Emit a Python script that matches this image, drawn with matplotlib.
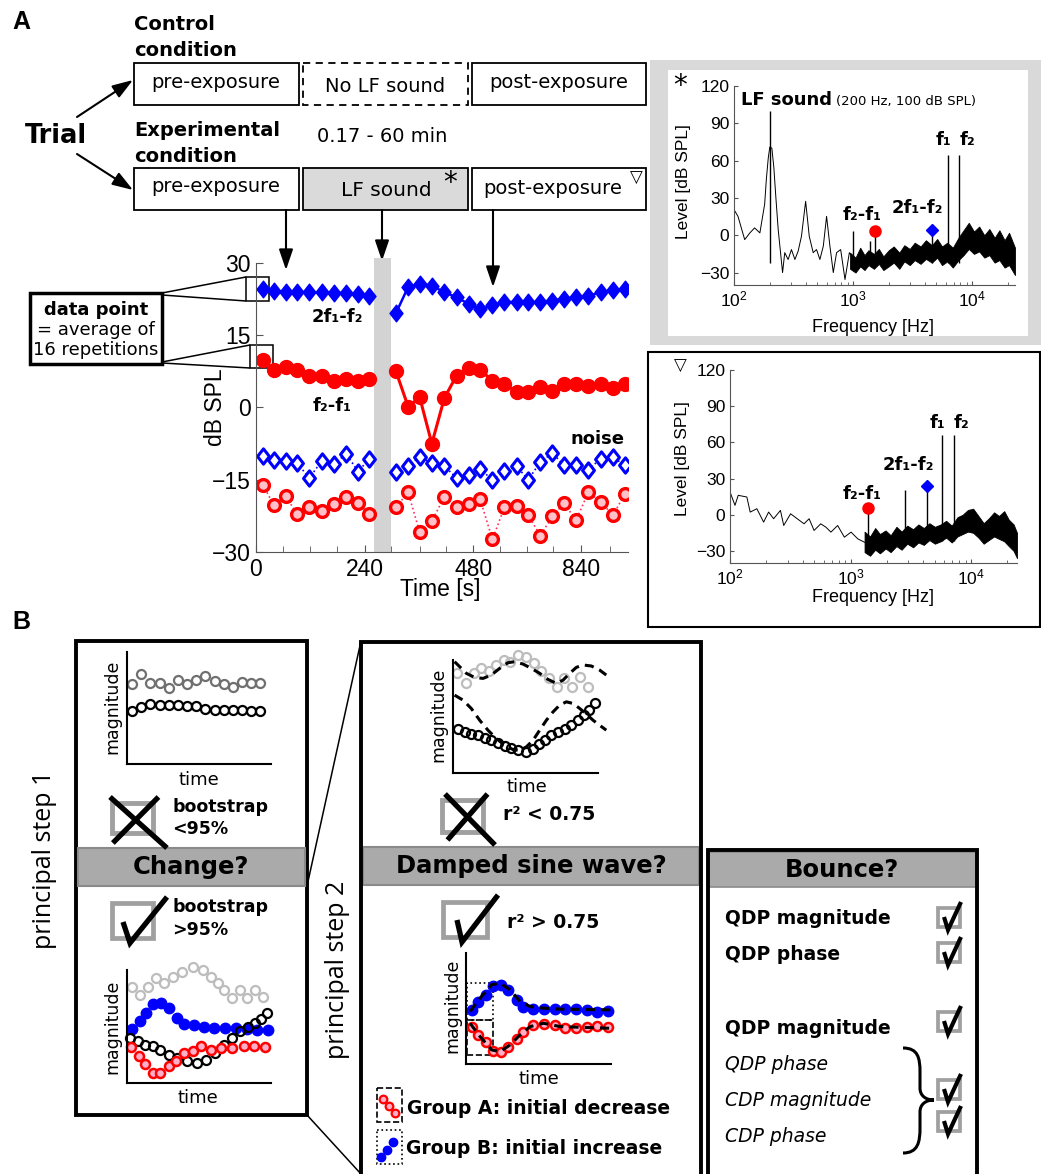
import numpy as np
import matplotlib.pyplot as plt
from matplotlib.patches import Rectangle, PathPatch, FancyArrowPatch
from matplotlib.path import Path

plt.rcParams['font.family'] = ['Liberation Sans', 'DejaVu Sans']

# ---------------- panel A: time course (dB SPL) ----------------
pre_t = [14, 37, 61, 85, 110, 136, 161, 186, 211, 234]
post_t = [289, 314, 338, 363, 389, 414, 439, 463, 488, 513,
          538, 562, 587, 612, 636, 661, 686, 712, 737, 761]
exposure_span = [244, 279]
xtick_pos = [0, 225, 449, 671]
xtick_labels = ['0', '240', '480', '840']
xtick_minor = [56, 111, 168, 278, 339, 392, 504, 559, 614, 730]

cdp_pre = [24.6, 24.1, 24.0, 24.0, 23.9, 23.9, 23.8, 23.8, 23.6, 23.2]
cdp_post = [19.6, 25.0, 25.7, 25.3, 23.9, 22.9, 21.5, 20.4, 21.2, 21.9,
            21.9, 21.9, 21.9, 22.2, 22.6, 22.9, 23.2, 23.9, 24.3, 24.6]
qdp_pre = [9.9, 7.8, 8.4, 7.8, 6.6, 6.6, 5.6, 6.0, 5.6, 6.0]
qdp_post = [7.5, 0.2, 2.1, -7.5, 2.0, 6.6, 8.2, 7.8, 5.6, 4.9,
            3.2, 3.2, 4.2, 3.4, 4.9, 4.8, 4.4, 4.8, 4.1, 4.8]
cdp_noise_pre = [-10.0, -11.0, -11.1, -11.6, -14.6, -11.1, -11.8, -9.6, -13.3, -10.6]
cdp_noise_post = [-13.4, -12.2, -10.2, -11.6, -12.2, -14.6, -14.1, -12.7, -15.1, -13.2,
                  -12.2, -15.0, -11.3, -9.5, -12.0, -12.0, -12.9, -10.6, -10.3, -12.0]
qdp_noise_pre = [-16.0, -20.3, -18.3, -22.2, -20.7, -21.5, -20.1, -18.6, -19.9, -22.1]
qdp_noise_post = [-20.7, -17.6, -25.9, -23.6, -18.5, -20.7, -20.0, -19.1, -27.4, -20.7,
                  -20.5, -22.4, -26.6, -22.6, -19.9, -23.4, -17.6, -19.6, -22.4, -18.0]

# ---------------- panel A: spectra ----------------
lf_freq_a = [100, 108, 123, 136, 149, 165, 181, 187, 194, 200, 208, 216, 225, 235,
             243, 256, 267, 285, 304, 325, 346, 369, 400, 429, 463, 494, 527, 563,
             600, 640, 683, 728, 788, 857, 932, 1000]
lf_level_a = [20.6, 15.2, -3.5, 1.9, 5.9, 1.9, 25, 45, 62, 71, 70, 55, 30, 5,
              -8.8, -30, -14, -19.5, -11.5, -19.5, -12.8, -0.8, 27.3, -0.8, -14, -11.5,
              -19.5, -8.8, 15.2, -8.8, -30, -14, -11.5, -35.6, -14, -18]
band_freq_a = [945, 1050, 1150, 1250, 1350, 1500, 1650, 1800, 2000, 2200,
               2450, 2700, 3000, 3300, 3700, 4100, 4600, 5100, 5600, 6200,
               6900, 7700, 8500, 9400, 10400, 11500, 12700, 14000, 15500, 17000,
               18800, 20500, 23000]
band_hi_a = [-14, -18, -10, -16, -12, -15, -11, -17, -12, -9,
             -14, -8, -11, -6, -9, -4, -8, -3, -9, -6,
             -10, -2, 4, 10, 3, 7, 0, 5, -2, 4,
             -4, 2, -10]
band_lo_a = [-27, -30, -25, -28, -24, -27, -23, -28, -25, -22,
             -27, -21, -24, -20, -23, -19, -22, -18, -24, -21,
             -26, -20, -16, -11, -15, -13, -18, -16, -22, -20,
             -26, -24, -32]
spike_freq_a = [200, 1000, 1400, 1540, 4630, 6240, 7760]
spike_top_a = [99.5, 3.2, -5, 3.7, 4.5, 64.7, 64.7]
qdp_peak_a = (1540, 3.7)
cdp_peak_a = (4630, 4.5)

lf_freq_b = [100, 110, 117, 138, 147, 167, 190, 209, 230, 262, 279, 318,
             361, 411, 453, 498, 566, 624, 687, 781, 888, 1009, 1148, 1306]
lf_level_b = [18.9, 7.8, 16.1, 14.7, 2.2, 5, -6.1, 2.2, -3.3, 3.6, -8.9, 0.8,
              -3.3, -7.5, -3.3, -13, -7.5, -10.3, -14.4, -8.9, -18.6, -14.4, -20, -22.8]
band_freq_b = [1306, 1450, 1600, 1750, 1950, 2150, 2400, 2650, 2950, 3300,
               3650, 4050, 4500, 5000, 5600, 6200, 6900, 7700, 8500, 9400,
               10400, 11500, 12700, 14000, 15500, 17000, 18800, 20500, 22500, 24000]
band_hi_b = [-14, -18, -11, -16, -13, -17, -10, -14, -9, -12,
             -8, -11, -7, -10, -8, -5, -9, -2, 0, 4,
             5, -1, -7, -3, 2, -1, 3, -4, -8, -15]
band_lo_b = [-31, -34, -29, -32, -28, -31, -26, -29, -24, -27,
             -23, -25, -21, -24, -22, -19, -23, -18, -16, -14,
             -15, -19, -24, -21, -18, -20, -22, -26, -30, -36]
spike_freq_b = [1393, 2820, 4290, 5720, 7160]
spike_top_b = [5.8, 20.3, 23.6, 66, 66]
qdp_peak_b = (1393, 5.8)
cdp_peak_b = (4290, 23.6)

# ---------------- panel B: schematic examples (arbitrary units) ----------------
s1a_t = [0.35, 0.98, 1.62, 2.26, 2.89, 3.53, 4.17, 4.80, 5.44, 6.08, 6.71, 7.35, 7.99, 8.62, 9.26]
s1a_gray = [7.18, 8.01, 7.24, 7.24, 6.82, 7.48, 7.18, 7.54, 7.83, 7.42, 7.18, 6.88, 7.33, 7.24, 7.24]
s1a_black = [4.75, 5.10, 5.40, 5.25, 5.25, 5.25, 5.19, 5.19, 4.87, 4.81, 4.81, 4.81, 4.81, 4.75, 4.69]

s1b_gray_t = [0.35, 0.88, 1.44, 2.01, 2.59, 3.17, 3.82, 4.58, 5.28, 5.83, 6.30, 6.76, 7.29, 7.82, 8.33, 8.87, 9.44]
s1b_gray = [8.53, 7.79, 8.53, 9.26, 8.82, 9.41, 9.85, 10.29, 10.0, 9.41, 8.82, 8.24, 7.5, 8.24, 7.5, 8.24, 7.65]
s1b_blue_t = [0.35, 0.93, 1.34, 1.78, 2.36, 2.89, 3.47, 3.98, 4.63, 5.32, 6.06, 6.83, 7.59, 8.33, 9.03, 9.77]
s1b_blue = [4.76, 5.53, 6.18, 6.97, 7.06, 6.62, 5.74, 5.24, 5.09, 4.94, 4.85, 4.85, 4.85, 4.76, 4.65, 4.71]
s1b_black_t = [0.19, 0.74, 1.27, 1.78, 2.31, 2.89, 3.47, 4.17, 4.86, 5.49, 6.13, 6.71, 7.29, 7.87, 8.40, 8.91, 9.31, 9.72]
s1b_black = [3.97, 3.68, 3.38, 3.24, 2.94, 2.5, 2.21, 1.91, 1.76, 2.0, 2.65, 3.38, 3.97, 4.56, 5.0, 5.35, 5.65, 6.18]
s1b_red_t = [0.28, 0.81, 1.27, 1.78, 2.31, 2.89, 3.43, 3.98, 4.56, 5.14, 5.83, 6.53, 7.29, 8.10, 8.84, 9.61]
s1b_red = [3.18, 2.41, 1.71, 0.88, 0.88, 1.47, 1.91, 2.65, 2.79, 3.29, 2.94, 3.09, 3.09, 3.24, 3.24, 3.18]

s2a_gray_t = [0.28, 0.87, 1.43, 1.95, 2.48, 2.99, 3.49, 3.95, 4.51, 5.06, 5.56, 6.09, 6.62, 7.17, 7.63, 8.18, 8.74, 9.31]
s2a_gray = [8.82, 7.93, 8.82, 9.26, 9.05, 9.56, 10.0, 9.85, 10.44, 10.3, 9.7, 9.05, 8.37, 7.63, 8.37, 7.63, 8.46, 7.63]
s2a_black_t = [0.34, 0.80, 1.26, 1.72, 2.18, 2.64, 3.10, 3.56, 4.02, 4.48, 5.06, 5.52, 5.91, 6.32, 6.78, 7.24, 7.70, 8.16, 8.62, 9.01, 9.38, 9.77]
s2a_black = [3.93, 3.64, 3.49, 3.34, 3.11, 2.9, 2.66, 2.43, 2.22, 2.01, 1.86, 2.16, 2.54, 2.96, 3.34, 3.64, 3.93, 4.23, 4.67, 5.12, 5.56, 6.21]
s2a_fit_t = [0.11, 0.46, 0.92, 1.49, 2.07, 2.64, 3.22, 3.79, 4.25, 4.83, 5.40, 5.98, 6.55, 7.13, 7.59, 8.05, 8.51, 8.97, 9.54, 10.11, 10.57]
s2a_fit_up = [9.85, 9.41, 8.82, 8.46, 8.37, 8.67, 9.26, 9.76, 9.85, 9.64, 9.26, 8.82, 8.28, 7.93, 8.22, 8.82, 9.35, 9.56, 9.47, 9.11, 8.67]
s2a_fit_lo_t = [0.11, 0.69, 1.26, 1.84, 2.41, 2.99, 3.56, 4.14, 4.60, 5.06, 5.52, 5.98, 6.44, 6.90, 7.36, 7.82, 8.28, 8.74, 9.20, 9.66, 10.11, 10.57]
s2a_fit_lo = [6.89, 6.45, 5.71, 4.67, 3.79, 3.05, 2.46, 2.07, 2.01, 2.31, 2.9, 3.79, 4.67, 5.41, 6.01, 6.30, 6.15, 5.71, 5.21, 4.67, 4.23, 3.79]

s2b_t = [0.39, 0.85, 1.38, 1.84, 2.40, 2.93, 3.50, 3.96, 4.65, 5.35, 6.15, 6.84, 7.60, 8.34, 9.03, 9.77]
s2b_blue = [4.88, 5.63, 6.23, 6.99, 7.14, 6.69, 5.78, 5.18, 4.94, 4.94, 4.94, 4.94, 4.94, 4.82, 4.64, 4.73]
s2b_red = [3.37, 2.62, 2.02, 1.20, 1.11, 1.57, 2.23, 2.92, 3.52, 3.61, 3.52, 3.22, 3.22, 3.37, 3.43, 3.37]
s2b_fit_t = [0.28, 0.97, 1.77, 2.35, 3.04, 3.73, 4.42, 5.35, 6.50, 9.95]
s2b_fit_blue = [4.73, 5.93, 7.14, 7.29, 6.69, 5.63, 5.18, 5.03, 4.94, 4.88]
s2b_fit_red = [3.67, 2.47, 1.27, 1.11, 1.72, 2.62, 3.37, 3.67, 3.37, 3.22]

# ================================================================
W, H = 1041, 1174
fig = plt.figure(figsize=(W / 100, H / 100), dpi=100)

# overlay in pixel coordinates for the schematic parts
ov = fig.add_axes([0, 0, 1, 1])
ov.set_xlim(0, W)
ov.set_ylim(H, 0)
ov.axis('off')
ov.set_zorder(-1)

DV = 'DejaVu Sans'
# slightly tall diamond, like the original matlab markers
DIAMOND = Path([(0, 1), (0.78, 0), (0, -1), (-0.78, 0), (0, 1)],
               [Path.MOVETO, Path.LINETO, Path.LINETO, Path.LINETO, Path.CLOSEPOLY])


def px_axes(l, t, r, b):
    ax = fig.add_axes([l / W, 1 - b / H, (r - l) / W, (b - t) / H])
    ax.patch.set_alpha(0)
    return ax


def txt(x, y, s, size=14, weight='normal', ha='left', va='center', **kw):
    kw.setdefault('family', DV)
    ov.text(x, y, s, fontsize=size, fontweight=weight, ha=ha, va=va, **kw)


def box(x0, y0, x1, y1, **kw):
    kw.setdefault('fill', False)
    ov.add_patch(Rectangle((x0, y0), x1 - x0, y1 - y0, **kw))


def line(xs, ys, **kw):
    kw.setdefault('color', 'black')
    ov.plot(xs, ys, solid_capstyle='butt', **kw)


def arrow(p0, p1, lw=1.5):
    ov.add_patch(FancyArrowPatch(p0, p1, arrowstyle='-|>,head_length=0.5,head_width=0.17',
                                 mutation_scale=25, color='black', lw=lw,
                                 shrinkA=0, shrinkB=0))


def cross(x0, y0, x1, y1, sq):
    box(*sq, ec='#a0a0a0', lw=3.5)
    line([x0, x1], [y0, y1], lw=3.8)
    line([x1 - (x1 - x0) * 0.15, x0 + (x1 - x0) * 0.05], [y0, y1 - 5], lw=3.8)


def check(pts, sq, lw=3.8):
    box(*sq, ec='#a0a0a0', lw=lw * 0.9)
    line([p[0] for p in pts], [p[1] for p in pts], lw=lw, solid_joinstyle='miter')


def mini_axes(l, t, r, b):
    ax = px_axes(l, t, r, b)
    ax.set_xlim(0, 10)
    ax.set_ylim(0, 10)
    for s in ['top', 'right']:
        ax.spines[s].set_visible(False)
    for s in ['left', 'bottom']:
        ax.spines[s].set_linewidth(1.5)
    ax.set_xticks([])
    ax.set_yticks([])
    return ax


# ---------------- panel A schematic ----------------
txt(12, 22, 'A', size=18, weight='bold', family='Liberation Sans')
txt(134, 24, 'Control', size=14, weight='bold')
txt(134, 50, 'condition', size=14, weight='bold')
txt(134, 130, 'Experimental', size=14, weight='bold')
txt(134, 156, 'condition', size=14, weight='bold')
txt(317, 137, '0.17 - 60 min', size=14)
txt(25, 136, 'Trial', size=18.5, weight='bold')
arrow((77, 117), (133, 80))
arrow((77, 154), (133, 190))

row1, row2 = (63, 105), (168, 210)
cols = [(134, 299), (303, 468), (472, 646)]
box(cols[0][0], row1[0], cols[0][1], row1[1], lw=1.3)
box(cols[1][0], row1[0], cols[1][1], row1[1], lw=1.3, ls=(0, (4, 3)))
box(cols[2][0], row1[0], cols[2][1], row1[1], lw=1.3)
box(cols[0][0], row2[0], cols[0][1], row2[1], lw=1.3)
box(cols[1][0], row2[0], cols[1][1], row2[1], lw=1.3, fill=True, fc='#dadada', ec='black')
box(cols[2][0], row2[0], cols[2][1], row2[1], lw=1.3)
txt(216, 82, 'pre-exposure', ha='center')
txt(385, 86, 'No LF sound', ha='center')
txt(559, 82, 'post-exposure', ha='center')
txt(216, 187, 'pre-exposure', ha='center')
txt(386, 190, 'LF sound', ha='center', size=14.5)
txt(443, 183, '*', size=20, ha='left')
txt(553, 189, 'post-exposure', ha='center')
txt(636, 178, '\u25BD', size=12, ha='center')
arrow((286, 210), (286, 270))
arrow((382, 210), (382, 261))
arrow((493, 210), (493, 287))

# data point callout
box(30, 293, 162, 364, lw=2.5)
txt(96, 310, 'data point', size=13, weight='bold', ha='center')
txt(96, 330, '= average of', size=13, ha='center')
txt(96, 350, '16 repetitions', size=13, ha='center')
box(246, 277, 269, 301, lw=1.1)
box(250, 345, 273, 368, lw=1.1)
line([162, 246], [293, 277], lw=1.1)
line([162, 246], [295, 301], lw=1.1)
line([162, 250], [362, 345], lw=1.1)
line([162, 250], [363, 368], lw=1.1)

# ---------------- panel A time course ----------------
ax = px_axes(256, 263, 628, 552)
ax.set_xlim(0, 768)
ax.set_ylim(-30, 30)
ax.axvspan(exposure_span[0], exposure_span[1], ymin=0, ymax=1.017, color='#d3d3d3',
           lw=0, clip_on=False, zorder=0)
blue, red = '#0000ff', '#ff0000'
for tt, cp, qp, cn, qn in [(pre_t, cdp_pre, qdp_pre, cdp_noise_pre, qdp_noise_pre),
                           (post_t, cdp_post, qdp_post, cdp_noise_post, qdp_noise_post)]:
    ax.plot(tt, cn, ':', color=blue, lw=1.2, marker=DIAMOND, ms=11, mfc='white', mec=blue, mew=2.2)
    ax.plot(tt, qn, ':', color='#ff3060', lw=1.2, marker='o', ms=8.5, mfc='#ffc0c8', mec=red, mew=2.4)
    ax.plot(tt, cp, '-', color=blue, lw=1.8, marker=DIAMOND, ms=12, mfc=blue, mec=blue)
    ax.plot(tt, qp, '-', color=red, lw=2.2, marker='o', ms=10, mfc=red, mec=red)
for s in ['top', 'right']:
    ax.spines[s].set_visible(False)
for s in ['left', 'bottom']:
    ax.spines[s].set_color('#555555')
ax.set_yticks([-30, -15, 0, 15, 30])
ax.set_xticks(xtick_pos)
ax.set_xticklabels(xtick_labels)
ax.set_xticks(xtick_minor, minor=True)
ax.tick_params(direction='in', length=5, labelsize=16.5, color='#555555', pad=4)
ax.tick_params(which='minor', direction='in', length=4, color='#555555')
ax.set_ylabel('dB SPL', fontsize=16.5)
ax.set_xlabel('Time [s]', fontsize=16.5)
ax.yaxis.set_label_coords(-0.11, 0.5)
ax.xaxis.set_label_coords(0.495, -0.13)
ax.yaxis.label.set_va('center')
ax.xaxis.label.set_va('center')
txt(337, 317, '2f\u2081-f\u2082', size=13, weight='bold', ha='center')
txt(332, 406, 'f\u2082-f\u2081', size=13, weight='bold', ha='center')
txt(598, 439, 'noise', size=13, weight='bold', ha='center')

# ---------------- spectra panels ----------------
box(650, 60, 1041, 345, fill=True, fc='#d9d9d9', lw=0)
box(668, 70, 1028, 336, fill=True, fc='white', lw=0)
box(648, 352, 1040, 627, lw=1.5)


def spectrum(ax, lf_f, lf_l, bf, bl, bh, sf, st, qp, cp, xmax):
    ax.set_xscale('log')
    ax.set_xlim(100, xmax)
    ax.set_ylim(-40, 120)
    ax.plot(lf_f, lf_l, color='black', lw=0.7)
    ax.fill_between(bf, bl, bh, color='black', lw=0.6)
    ax.vlines(sf, -22, st, color='black', lw=1.0)
    ax.plot(*qp, 'o', color=red, ms=8, zorder=5)
    ax.plot(*cp, 'D', color=blue, ms=6, zorder=5)
    for s in ['top', 'right']:
        ax.spines[s].set_visible(False)
    for s in ['left', 'bottom']:
        ax.spines[s].set_color('#555555')
    ax.set_yticks([-30, 0, 30, 60, 90, 120])
    ax.tick_params(direction='in', length=3, labelsize=12.5, color='#555555')
    ax.tick_params(which='minor', direction='in', length=2, color='#555555')
    ax.set_ylabel('Level [dB SPL]', fontsize=12.5)
    ax.set_xlabel('Frequency [Hz]', fontsize=13)
    ax.yaxis.label.set_va('center')
    ax.xaxis.label.set_va('center')


axs1 = px_axes(734, 86, 1015, 285)
spectrum(axs1, lf_freq_a, lf_level_a, band_freq_a, band_lo_a, band_hi_a,
         spike_freq_a, spike_top_a, qdp_peak_a, cdp_peak_a, 23000)
axs1.yaxis.set_label_coords(-0.18, 0.52)
axs1.xaxis.set_label_coords(0.495, -0.215)
txt(680, 86, '*', size=20, ha='center')
txt(741, 100, 'LF sound', size=13, weight='bold')
txt(836, 101, '(200 Hz, 100 dB SPL)', size=9.5)
txt(944, 140, 'f\u2081', size=13, weight='bold', ha='center')
txt(967, 140, 'f\u2082', size=13, weight='bold', ha='center')
txt(862, 215, 'f\u2082-f\u2081', size=13, weight='bold', ha='center')
txt(917, 208, '2f\u2081-f\u2082', size=13, weight='bold', ha='center')

axs2 = px_axes(730, 370, 1017, 563)
spectrum(axs2, lf_freq_b, lf_level_b, band_freq_b, band_lo_b, band_hi_b,
         spike_freq_b, spike_top_b, qdp_peak_b, cdp_peak_b, 24000)
axs2.yaxis.set_label_coords(-0.165, 0.54)
axs2.xaxis.set_label_coords(0.5, -0.18)
txt(680, 366, '\u25BD', size=12, ha='center')
txt(937, 423, 'f\u2081', size=13, weight='bold', ha='center')
txt(961, 423, 'f\u2082', size=13, weight='bold', ha='center')
txt(908, 465, '2f\u2081-f\u2082', size=13, weight='bold', ha='center')
txt(862, 494, 'f\u2082-f\u2081', size=13, weight='bold', ha='center')

# ---------------- panel B ----------------
txt(12, 622, 'B', size=18, weight='bold', family='Liberation Sans')
txt(45, 860, 'principal step 1', size=18, rotation=90, ha='center', family='Open Sans')
txt(338, 970, 'principal step 2', size=18, rotation=90, ha='center', family='Open Sans')

# step 1 box
box(76, 641, 307, 1115, lw=2.8)
box(78, 848, 305, 886, fill=True, fc='#aaaaaa', ec='#8a8a8a', lw=1.5)
txt(191, 867, 'Change?', size=17.5, weight='bold', ha='center')
line([307, 361], [886, 641], lw=1.1)
line([307, 361], [1115, 1174], lw=1.1)

a = mini_axes(127, 652, 271, 764)
a.plot(s1a_t, s1a_gray, 'o', ms=6.5, mfc='none', mec='#707070', mew=1.6, clip_on=False)
a.plot(s1a_t, s1a_black, 'o', ms=6.5, mfc='none', mec='black', mew=1.6, clip_on=False)
txt(112, 707, 'magnitude', size=12.5, rotation=90, ha='center')
txt(199, 780, 'time', size=13, ha='center')

cross(110, 797, 167, 848, (112, 803, 153, 833))
txt(172, 807, 'bootstrap', size=12.5, weight='bold')
txt(172, 829, '<95%', size=12.5, weight='bold')
check([(123, 922), (130, 943), (167, 897)], (112, 903, 153, 938))
txt(172, 907, 'bootstrap', size=12.5, weight='bold')
txt(172, 930, '>95%', size=12.5, weight='bold')

a = mini_axes(127, 970, 271, 1083)
a.plot(s1b_gray_t, s1b_gray, 'o', ms=6.5, mfc='none', mec='#bdbdbd', mew=1.6, clip_on=False)
a.plot(s1b_blue_t, s1b_blue, 'o', ms=7.5, color=blue, clip_on=False)
a.plot(s1b_black_t, s1b_black, 'o', ms=6.5, mfc='none', mec='black', mew=1.6, clip_on=False)
a.plot(s1b_red_t, s1b_red, 'o', ms=6.5, mfc='#ffb0c8', mec=red, mew=1.8, clip_on=False)
txt(112, 1027, 'magnitude', size=12.5, rotation=90, ha='center')
txt(198, 1098, 'time', size=13, ha='center')

# step 2 box
line([361, 361, 701, 701], [1174, 642, 642, 1174], lw=2.8, solid_joinstyle='miter')
box(363, 847, 699, 885, fill=True, fc='#aaaaaa', ec='#8a8a8a', lw=1.5)
txt(531, 866, 'Damped sine wave?', size=17.5, weight='bold', ha='center')

a = mini_axes(453, 660, 598, 773)
a.plot(s2a_gray_t, s2a_gray, 'o', ms=6.5, mfc='none', mec='#bdbdbd', mew=1.6, clip_on=False)
a.plot(s2a_black_t, s2a_black, 'o', ms=6.5, mfc='none', mec='black', mew=1.6, clip_on=False)
a.plot(s2a_fit_t, s2a_fit_up, '--', color='black', lw=2.2, dashes=(3, 2), clip_on=False)
a.plot(s2a_fit_lo_t, s2a_fit_lo, '--', color='black', lw=2.2, dashes=(3, 2), clip_on=False)
txt(438, 715, 'magnitude', size=12.5, rotation=90, ha='center')
txt(527, 787, 'time', size=13, ha='center')

cross(445, 794, 495, 845, (442, 800, 483, 832))
txt(503, 815, 'r\u00b2 < 0.75', size=13.5, weight='bold')
check([(457, 920), (462, 942), (498, 895)], (443, 902, 487, 937))
txt(507, 922, 'r\u00b2 > 0.75', size=13.5, weight='bold')

a = mini_axes(466, 953, 611, 1064)
a.plot(s2b_t, s2b_blue, 'o', ms=7.5, color=blue, clip_on=False)
a.plot(s2b_t, s2b_red, 'o', ms=6.5, mfc='#ffb0c8', mec=red, mew=1.8, clip_on=False)
a.plot(s2b_fit_t, s2b_fit_blue, '--', color='black', lw=2.2, dashes=(3, 2), clip_on=False)
a.plot(s2b_fit_t, s2b_fit_red, '--', color='black', lw=2.2, dashes=(3, 2), clip_on=False)
a.add_patch(Rectangle((0.09, 3.98), 1.75, 3.31, fill=False, ls=':', lw=1.2))
a.add_patch(Rectangle((0.09, 0.81), 1.75, 3.17, fill=False, ls='--', lw=1.2))
txt(452, 1006, 'magnitude', size=12.5, rotation=90, ha='center')
txt(539, 1079, 'time', size=13, ha='center')

box(377, 1088, 402, 1122, lw=1.2, ls='--')
ov.plot([383, 389, 395], [1099, 1106, 1113], 'o', ms=5.5, mfc='#ffb0c8', mec=red, mew=1.6)
txt(407, 1108, 'Group A: initial decrease', size=13.5, weight='bold')
box(377, 1130, 402, 1164, lw=1.2, ls=':')
ov.plot([381, 387, 393], [1157, 1150, 1142], 'o', ms=6, color=blue)
txt(406, 1149, 'Group B: initial increase', size=13.5, weight='bold')

# step 3 box
line([708, 708, 977, 977], [1174, 850, 850, 1174], lw=2.8, solid_joinstyle='miter')
box(709, 852, 976, 887, fill=True, fc='#aaaaaa', ec='#8a8a8a', lw=1.2)
txt(842, 870, 'Bounce?', size=17.5, weight='bold', ha='center')
rows = [(918, 'QDP magnitude', 'bold', 'normal'), (955, 'QDP phase', 'bold', 'normal'),
        (1028, 'QDP magnitude', 'bold', 'normal'), (1065, 'QDP phase', 'normal', 'italic'),
        (1101, 'CDP magnitude', 'normal', 'italic'), (1137, 'CDP phase', 'normal', 'italic')]
for y, s, w, st in rows:
    txt(725, y, s, size=13.5, weight=w, style=st)
for y0 in [908, 943, 1012, 1080, 1112]:
    check([(944, y0 + 9), (948, y0 + 22), (961, y0 - 6)], (938, y0, 960, y0 + 19), lw=3.0)
brace = Path([(903, 1048), (918, 1048), (920, 1058), (920, 1072), (920, 1088),
              (920, 1096), (926, 1100), (934, 1100),
              (926, 1100), (920, 1104), (920, 1112), (920, 1128),
              (920, 1142), (918, 1153), (903, 1153)],
             [Path.MOVETO, Path.CURVE4, Path.CURVE4, Path.CURVE4, Path.LINETO,
              Path.CURVE4, Path.CURVE4, Path.CURVE4,
              Path.CURVE4, Path.CURVE4, Path.CURVE4, Path.LINETO,
              Path.CURVE4, Path.CURVE4, Path.CURVE4])
ov.add_patch(PathPatch(brace, fill=False, lw=2.2, ec='black'))

fig.savefig('out.png', dpi=100)
